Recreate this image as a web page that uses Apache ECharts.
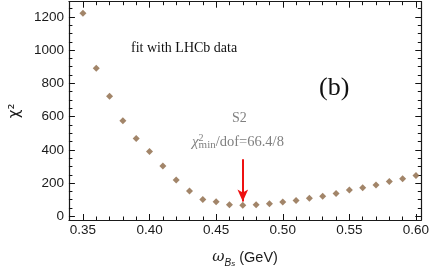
<!DOCTYPE html>
<html>
<head>
<meta charset="utf-8">
<script src="https://cdn.jsdelivr.net/npm/echarts@6/dist/echarts.min.js"></script>
<style>html,body{margin:0;padding:0;background:#fff;}#c{width:432px;height:273px;}</style>
</head>
<body>
<div id="c"></div>
<script>
var omega = [0.35,0.36,0.37,0.38,0.39,0.40,0.41,0.42,0.43,0.44,0.45,0.46,0.47,0.48,0.49,0.50,0.51,0.52,0.53,0.54,0.55,0.56,0.57,0.58,0.59,0.60];
var chi2 = [1222,890,722,575,468,390,303,219,153,101,88,70,66.4,70,76,87,95,109,121,137,158,172,189,209,226,246];
var xMajorTicks = [0.35,0.40,0.45,0.50,0.55,0.60];
var xMinorTicks = [0.36,0.37,0.38,0.39,0.41,0.42,0.43,0.44,0.46,0.47,0.48,0.49,0.51,0.52,0.53,0.54,0.56,0.57,0.58,0.59];
var yMajorTicks = [0,200,400,600,800,1000,1200];
var yMinorTicks = [50,100,150,250,300,350,450,500,550,650,700,750,850,900,950,1050,1100,1150,1250];
var arrowFrom = [0.47, 343];
var arrowTo = [0.47, 90];

var X_MIN = 0.3395, X_MAX = 0.604, Y_MIN = -22, Y_MAX = 1291;
var lineCol = '#1a1a1a';
var tickCol = '#111111';
var tickFont = {fontFamily: 'Liberation Sans, Arial, sans-serif', fontSize: 13.5, color: '#1a1a1a'};

function xAx(pos, ticks, len, showLine, showLabel, extra) {
  var a = {
    type: 'value', position: pos, min: X_MIN, max: X_MAX,
    axisLine: {show: showLine, onZero: false, lineStyle: {color: lineCol, width: 1.2}},
    axisTick: {show: true, inside: true, length: len, customValues: ticks, lineStyle: {color: tickCol, width: 1}},
    axisLabel: {show: showLabel, customValues: ticks, margin: 3, formatter: function (v) { return v.toFixed(2); }},
    splitLine: {show: false}
  };
  Object.assign(a.axisLabel, tickFont);
  return Object.assign(a, extra || {});
}
function yAx(pos, ticks, len, showLine, showLabel, extra) {
  var a = {
    type: 'value', position: pos, min: Y_MIN, max: Y_MAX,
    axisLine: {show: showLine, onZero: false, lineStyle: {color: lineCol, width: 1.2}},
    axisTick: {show: true, inside: true, length: len, customValues: ticks, lineStyle: {color: tickCol, width: 1}},
    axisLabel: {show: showLabel, customValues: ticks, margin: 5, formatter: function (v) { return String(v); }},
    splitLine: {show: false}
  };
  Object.assign(a.axisLabel, tickFont);
  return Object.assign(a, extra || {});
}

var grey = '#808080';
var chart = echarts.init(document.getElementById('c'), null, {renderer: 'canvas'});
chart.setOption({
  animation: false,
  grid: {left: 61.7, right: 8.7, top: 1.7, bottom: 47.3, containLabel: false},
  xAxis: [
    xAx('bottom', xMajorTicks, 6, true, true, {
      name: '{w|ω}{b|B}{s|s}{g| (GeV)}', nameLocation: 'middle', nameGap: 30,
      nameTextStyle: {
        rich: {
          w: {fontFamily: 'DejaVu Serif, serif', fontStyle: 'italic', fontSize: 15, color: '#1a1a1a', lineHeight: 18, verticalAlign: 'top'},
          b: {fontFamily: 'Liberation Sans, Arial, sans-serif', fontStyle: 'italic', fontSize: 10, color: '#1a1a1a', lineHeight: 10, verticalAlign: 'bottom'},
          s: {fontFamily: 'Liberation Sans, Arial, sans-serif', fontStyle: 'italic', fontSize: 8, color: '#1a1a1a', lineHeight: 5, verticalAlign: 'bottom'},
          g: {fontFamily: 'Liberation Sans, Arial, sans-serif', fontSize: 14.5, color: '#1a1a1a', lineHeight: 18, verticalAlign: 'top'}
        }
      }
    }),
    xAx('bottom', xMinorTicks, 3.5, false, false),
    xAx('top', xMajorTicks, 6, true, false),
    xAx('top', xMinorTicks, 3.5, false, false)
  ],
  yAxis: [
    yAx('left', yMajorTicks, 6, true, true, {
      name: 'χ²', nameLocation: 'middle', nameGap: 42, nameRotate: 90,
      nameTextStyle: {fontFamily: 'DejaVu Sans, sans-serif', fontSize: 15, color: '#1a1a1a'}
    }),
    yAx('left', yMinorTicks, 3.5, false, false),
    yAx('right', yMajorTicks, 6, true, false),
    yAx('right', yMinorTicks, 3.5, false, false)
  ],
  series: [{
    type: 'scatter',
    xAxisIndex: 0, yAxisIndex: 0,
    symbol: 'diamond', symbolSize: [7, 7],
    itemStyle: {color: '#8b6743'},
    data: omega.map(function (x, i) { return [x, chi2[i]]; }),
    emphasis: {disabled: true},
    markLine: {
      silent: true,
      symbol: ['none', 'arrow'],
      symbolSize: [8, 12],
      label: {show: false},
      lineStyle: {color: '#ee1111', width: 2, type: 'solid'},
      data: [[{coord: arrowFrom}, {coord: arrowTo}]]
    }
  }],
  graphic: [
    {type: 'text', left: 131, top: 41, style: {text: 'fit with LHCb data', font: '14px "Liberation Serif", "Times New Roman", serif', fill: '#111'}},
    {type: 'text', left: 319, top: 75, style: {text: '(b)', font: '26px "Liberation Serif", "Times New Roman", serif', fill: '#111'}},
    {type: 'text', left: 232, top: 111, style: {text: 'S2', font: '14px "Liberation Serif", "Times New Roman", serif', fill: grey}},
    {type: 'text', left: 192, top: 133, style: {
      text: '{c|χ}{p|2}{m|min}{n|/dof=66.4/8}',
      rich: {
        c: {fontFamily: 'Liberation Serif, serif', fontStyle: 'italic', fontSize: 15, fill: grey, lineHeight: 18, verticalAlign: 'middle'},
        p: {fontFamily: 'Liberation Serif, serif', fontSize: 10, fill: grey, lineHeight: 9, verticalAlign: 'top', width: 0},
        m: {fontFamily: 'Liberation Serif, serif', fontSize: 11, fill: grey, lineHeight: 8, verticalAlign: 'bottom'},
        n: {fontFamily: 'Liberation Serif, serif', fontSize: 14.5, fill: grey, lineHeight: 18, verticalAlign: 'middle'}
      }
    }}
  ]
});
</script>
</body>
</html>
